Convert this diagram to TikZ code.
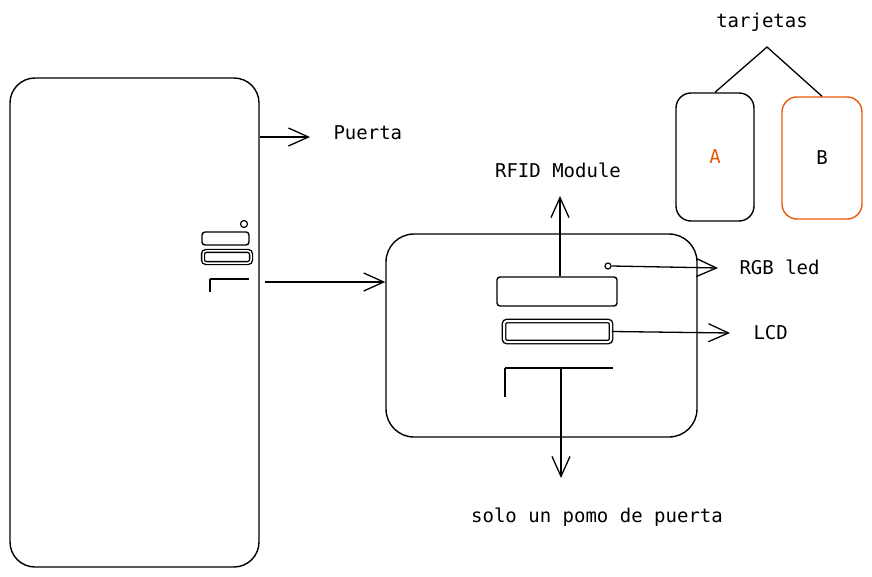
\documentclass[tikz,border=0pt]{standalone}
\usepackage{fontspec}
\setmonofont{DejaVu Sans Mono}
\usetikzlibrary{arrows.meta}
\definecolor{sketchorange}{HTML}{E8590C}
\begin{document}
\begin{tikzpicture}[x=1pt, y=-1pt,
  every node/.style = {align=center, font=\ttfamily\fontsize{19}{21}\selectfont},
  box/.style = {draw, line width=1.4pt, rectangle, inner sep=0pt},
  slot/.style = {box, rounded corners=3pt},
  dot/.style = {draw, line width=1.2pt, circle, inner sep=0pt, minimum size=7pt},
  pointer/.style = {line width=1.3pt, -{Straight Barb[length=20pt, width=18pt]}}]
  \useasboundingbox (0,0) rectangle (872,577);
  % puerta
  \node[box, rounded corners=25pt, minimum width=249pt, minimum height=489pt] (door) at (134.5,322.5) {};
  \node[anchor=west] (puerta) at (330,133) {Puerta};
  \coordinate (doortip) at (310,137);
  \draw[pointer] (door.east |- doortip) -- (doortip);
  \node[dot] (doorled) at (244,224) {};
  \node[slot, minimum width=47pt, minimum height=13pt] (doorrfid) at (225.5,238.5) {};
  \node[slot, double, double distance=1.5pt, minimum width=48pt, minimum height=12pt] (doorlcd) at (227,257) {};
  \coordinate (knobA) at (210,279);
  \draw[line width=1.3pt] (knobA) -- ++(0,13) (knobA) -- ++(39,0);
  % cerradura
  \node[box, rounded corners=28pt, minimum width=311pt, minimum height=203pt] (lock) at (541.5,335.5) {};
  \coordinate (knob) at (265,282);
  \draw[pointer] (knob) -- (knob -| lock.west);
  \node[slot, minimum width=120pt, minimum height=29pt] (rfid) at (557,291.5) {};
  \node[slot, double, double distance=2pt, minimum width=107pt, minimum height=21pt] (lcd) at (557.5,331.5) {};
  \node[dot, minimum size=6pt] (led) at (608,266) {};
  \coordinate (rfidtip) at (560,196);
  \coordinate (ledtip) at (718,268);
  \coordinate (lcdtip) at (730,333);
  \draw[pointer] (rfid.north -| rfidtip) -- (rfidtip);
  \draw[pointer] (led.east) -- (ledtip);
  \draw[pointer] (lcd.east) -- (lcdtip);
  \node (rfidlabel) at (558,170) {RFID Module};
  \node[anchor=west] (ledlabel) at (736,267) {RGB led};
  \node[anchor=west] (lcdlabel) at (750,333) {LCD};
  \coordinate (knobB) at (505,368);
  \coordinate (knobtip) at (561,478);
  \draw[line width=1.3pt] (knobB) -- ++(0,29) (knobB) -- ++(108,0);
  \draw[pointer] (knobtip |- knobB) -- (knobtip);
  \node (pomo) at (597,517) {solo un pomo de puerta};
  % tarjetas
  \node (tarjetas) at (762,22) {tarjetas};
  \node[box, rounded corners=15pt, minimum width=78pt, minimum height=128pt, text=sketchorange] (cardA) at (715,157) {A};
  \node[box, draw=sketchorange, rounded corners=15pt, minimum width=80pt, minimum height=122pt] (cardB) at (822,158) {B};
  \coordinate (split) at (767,47);
  \draw[line width=1.3pt] (cardA.north) -- (split) -- (cardB.north);
\end{tikzpicture}
\end{document}
